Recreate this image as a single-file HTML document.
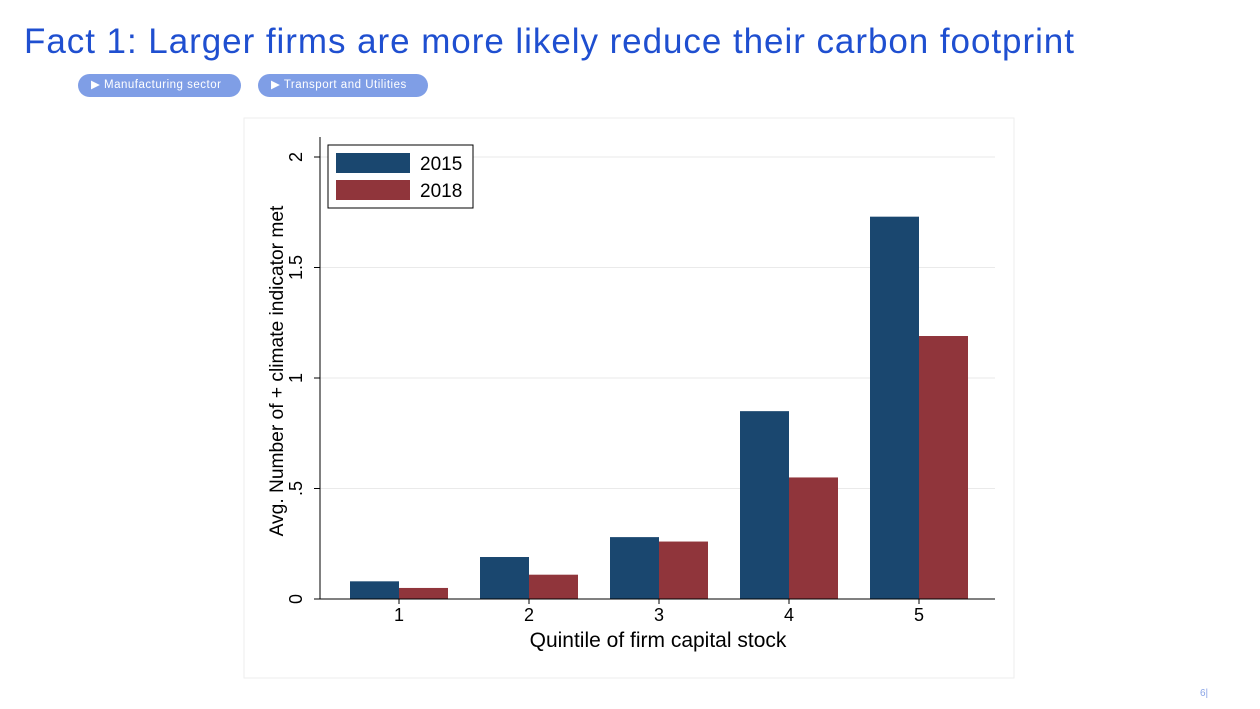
<!DOCTYPE html>
<html><head><meta charset="utf-8">
<style>
body{margin:0;width:1260px;height:709px;background:#fff;font-family:"Liberation Sans",sans-serif;position:relative;overflow:hidden}
.title{position:absolute;left:24px;top:22px;font-size:35px;letter-spacing:0.95px;color:#1f4fd0;white-space:nowrap}
.btn{position:absolute;top:74px;height:23px;border-radius:12px;background:#7f9ee6;color:#fff;font-size:11.5px;letter-spacing:0.5px;line-height:23px;padding:0 13px;white-space:nowrap;box-sizing:border-box}
.pg{position:absolute;left:1200px;top:688px;font-size:10px;color:#8aa4e6}
</style></head><body>
<div class="title">Fact 1: Larger firms are more likely reduce their carbon footprint</div>
<div class="btn" style="left:78px;width:163px">&#9654;&#xFE0E; Manufacturing sector</div>
<div class="btn" style="left:258px;width:170px">&#9654;&#xFE0E; Transport and Utilities</div>
<div class="pg">6|</div>
<svg id="chart" width="1260" height="709" style="position:absolute;left:0;top:0">
<rect x="244" y="118" width="770" height="560" fill="#fff" stroke="#eeeeee"/>
</svg>
<script>
const categories=["1","2","3","4","5"];
const values2015=[0.08,0.19,0.28,0.85,1.73];
const values2018=[0.05,0.11,0.26,0.55,1.19];
const yTicks=[0,0.5,1,1.5,2];
const yTickLabels=["0",".5","1","1.5","2"];
const svg=document.getElementById('chart');
const NS='http://www.w3.org/2000/svg';
const x0=320,x1=995,yBase=599,yTop=157;
const yScale=v=>yBase-(v/2)*(yBase-yTop);
const groupW=130,firstC=399,barW=49;
const xCenter=i=>firstC+i*groupW;
function mk(tag,attrs,text){const e=document.createElementNS(NS,tag);for(const k in attrs)e.setAttribute(k,attrs[k]);if(text!==undefined)e.textContent=text;svg.appendChild(e);return e;}
yTicks.forEach((t,i)=>{
  const y=yScale(t);
  if(t>0){const g=mk('line',{x1:x0,x2:x1,y1:y,y2:y,stroke:'#eaeaea','stroke-width':1});
  
  }
  const tk=mk('line',{x1:x0-6,x2:x0,y1:y,y2:y,stroke:'#000'});
  
  
  const lb=mk('text',{x:0,y:0,transform:`translate(302,${y}) rotate(-90)`,'text-anchor':'middle','font-size':18,fill:'#000'},yTickLabels[i]);
  
  
});
categories.forEach((c,i)=>{
  const cx=xCenter(i);
  const b1=mk('rect',{x:cx-barW,y:yScale(values2015[i]),width:barW,height:yBase-yScale(values2015[i]),fill:'#1a476f'});
  
  
  const b2=mk('rect',{x:cx,y:yScale(values2018[i]),width:barW,height:yBase-yScale(values2018[i]),fill:'#90353b'});
  
  
  const tk=mk('line',{x1:cx,x2:cx,y1:yBase,y2:yBase+5,stroke:'#000'});
  
  
  const lb=mk('text',{x:cx,y:621,'text-anchor':'middle','font-size':18},c);
  
  
});
const ya=mk('line',{x1:x0,x2:x0,y1:137,y2:yBase,stroke:'#000'});


const xa=mk('line',{x1:x0,x2:x1,y1:yBase,y2:yBase,stroke:'#000'});


const yt=mk('text',{x:0,y:0,transform:'translate(283,371) rotate(-90)','text-anchor':'middle','font-size':19.2},'Avg. Number of + climate indicator met');


const xt=mk('text',{x:658,y:647,'text-anchor':'middle','font-size':21},'Quintile of firm capital stock');


const lg=mk('rect',{x:328,y:145,width:145,height:63,fill:'#fff',stroke:'#000'});


[['2015','#1a476f',153],['2018','#90353b',180]].forEach(([t,c,y])=>{
  const s=mk('rect',{x:336,y:y,width:74,height:20,fill:c});
  
  
  const l=mk('text',{x:420,y:y+17,'font-size':19},t);
  
  
});
</script>
</body></html>
